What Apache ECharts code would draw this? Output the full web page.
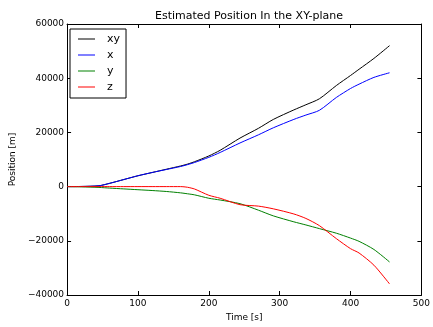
<!DOCTYPE html>
<html>
<head>
<meta charset="utf-8">
<script src="https://cdn.jsdelivr.net/npm/echarts@6/dist/echarts.min.js"></script>
<style>
  html, body { margin: 0; padding: 0; background: #fff; }
  #chart { width: 433px; height: 327px; }
</style>
</head>
<body>
<div id="chart"></div>
<script>
// Time samples [s]
const times = [0, 20, 45, 60, 80, 100, 120, 140, 160, 170, 180, 200, 216, 244, 270, 291, 320, 337, 356, 380, 400, 412, 433, 455];
// Estimated position components [m]
const posXY = [0, 50, 300, 1200, 2600, 4000, 5200, 6400, 7600, 8300, 9200, 11300, 13400, 17900, 21500, 24780, 28300, 30200, 32400, 37300, 41000, 43300, 47300, 52000];
const posX  = [0, 50, 300, 1200, 2600, 4000, 5200, 6300, 7400, 8100, 8900, 10800, 12600, 16100, 19100, 21700, 24800, 26400, 28150, 32900, 36200, 37800, 40300, 42000];
const posY  = [0, -100, -300, -550, -850, -1150, -1450, -1800, -2300, -2650, -3050, -4300, -4950, -6300, -8700, -10800, -13000, -14150, -15500, -17200, -19000, -20200, -23200, -27800];
const posZ  = [0, 0, 0, 0, 0, 0, 0, 0, 0, -250, -900, -3200, -4300, -6670, -7200, -8200, -10100, -11750, -14400, -19200, -22900, -24500, -29000, -35900];

const xTicks = { min: 0, max: 500, interval: 100 };
const yTicks = { min: -40000, max: 60000, interval: 20000 };

const seriesDefs = [
  { name: 'xy', values: posXY, color: '#000000' },
  { name: 'x',  values: posX,  color: '#0000ff' },
  { name: 'y',  values: posY,  color: '#008000' },
  { name: 'z',  values: posZ,  color: '#ff0000' }
];

const FONT = 'DejaVu Sans';
const frame = { show: true, onZero: false, lineStyle: { color: '#000', width: 1 } };
const tickIn = { show: true, inside: true, length: 4, lineStyle: { color: '#000', width: 1 } };

const chart = echarts.init(document.getElementById('chart'), null, { renderer: 'canvas' });
chart.setOption({
  animation: false,
  backgroundColor: '#fff',
  title: {
    text: 'Estimated Position In the XY-plane',
    left: 244,
    top: 6,
    textAlign: 'center',
    textStyle: { fontFamily: FONT, fontSize: 11, fontWeight: 'normal', color: '#000' }
  },
  legend: {
    orient: 'vertical',
    left: 70,
    top: 29,
    padding: [3, 6, 4, 8],
    icon: 'rect',
    itemWidth: 17,
    itemHeight: 1,
    itemGap: 2,
    borderColor: '#000',
    borderWidth: 1,
    borderRadius: 0,
    backgroundColor: '#fff',
    textStyle: { fontFamily: FONT, fontSize: 11, lineHeight: 14, color: '#000', padding: [0, 0, 0, 7] },
    data: seriesDefs.map(s => s.name)
  },
  grid: { left: 65, right: 10, top: 24, bottom: 28, containLabel: false },
  xAxis: [
    {
      type: 'value', position: 'bottom',
      min: xTicks.min, max: xTicks.max, interval: xTicks.interval,
      name: 'Time [s]', nameLocation: 'middle', nameGap: 18,
      nameTextStyle: { fontFamily: FONT, fontSize: 9, color: '#000' },
      axisLine: frame, axisTick: tickIn,
      axisLabel: { fontFamily: FONT, fontSize: 9, color: '#000', margin: 4 },
      splitLine: { show: false }
    },
    {
      type: 'value', position: 'top',
      min: xTicks.min, max: xTicks.max, interval: xTicks.interval,
      axisLine: frame, axisTick: tickIn,
      axisLabel: { show: false }, splitLine: { show: false }
    }
  ],
  yAxis: [
    {
      type: 'value', position: 'left',
      min: yTicks.min, max: yTicks.max, interval: yTicks.interval,
      name: 'Position [m]', nameLocation: 'middle', nameGap: 43,
      nameTextStyle: { fontFamily: FONT, fontSize: 9, color: '#000' },
      axisLine: frame, axisTick: tickIn,
      axisLabel: {
        fontFamily: FONT, fontSize: 9, color: '#000', margin: 3,
        formatter: v => (v < 0 ? '\u2212' + Math.abs(v) : String(v))
      },
      splitLine: { show: false }
    },
    {
      type: 'value', position: 'right',
      min: yTicks.min, max: yTicks.max, interval: yTicks.interval,
      axisLine: frame, axisTick: tickIn,
      axisLabel: { show: false }, splitLine: { show: false }
    }
  ],
  series: seriesDefs.map(s => ({
    name: s.name,
    type: 'line',
    xAxisIndex: 0,
    yAxisIndex: 0,
    data: times.map((t, i) => [t, s.values[i]]),
    showSymbol: false,
    symbol: 'none',
    smooth: 0.25,
    color: s.color,
    itemStyle: { color: s.color },
    lineStyle: { color: s.color, width: 1 }
  }))
});
</script>
</body>
</html>
